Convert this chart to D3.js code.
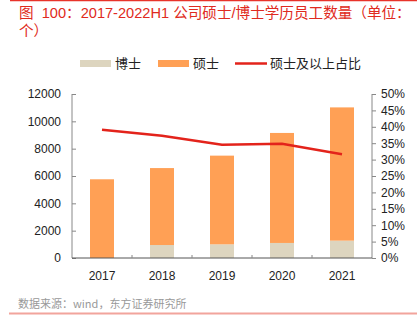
<!DOCTYPE html>
<html>
<head>
<meta charset="utf-8">
<script src="https://cdn.jsdelivr.net/npm/d3@7"></script>
<style>
  body { margin: 0; background: #fff; }
  svg text { font-family: "Liberation Sans", Arial, "Noto Sans CJK SC", sans-serif; }
  .cjk { font-family: "Noto Sans CJK SC", sans-serif; }
</style>
</head>
<body>
<div id="chart"></div>
<script>
// yearly headcount by degree, plus share of master's and above
var years = ["2017", "2018", "2019", "2020", "2021"];
var doctors = [0, 950, 1000, 1100, 1270];
var masters = [5760, 5630, 6490, 8050, 9750];
var ratio = [0.391, 0.373, 0.345, 0.348, 0.316];
var leftTicks = [0, 2000, 4000, 6000, 8000, 10000, 12000];
var rightTicks = [0, 0.05, 0.1, 0.15, 0.2, 0.25, 0.3, 0.35, 0.4, 0.45, 0.5];

var W = 417, H = 328;
var margin = {top: 94, right: 45, bottom: 70, left: 72},
    width = W - margin.left - margin.right,
    height = H - margin.top - margin.bottom;

var svg = d3.select("#chart")
  .append("svg")
    .attr("width", W)
    .attr("height", H);

// header rule and title
svg.append("line")
  .attr("x1", 10).attr("x2", W).attr("y1", 0.5).attr("y2", 0.5)
  .attr("stroke", "#e8332a").attr("stroke-width", 1.5);

var title = ["图  100：2017-2022H1 公司硕士/博士学历员工数量（单位：", "个）"];
svg.selectAll(".title")
  .data(title)
  .enter().append("text")
    .attr("class", "title")
    .attr("x", 19)
    .attr("y", function(d, i) { return 17.5 + i * 18.5; })
    .attr("fill", "#e02a20")
    .attr("font-size", 14.6)
    .style("white-space", "pre")
    .text(function(d) { return d; });

var g = svg.append("g")
  .attr("transform", "translate(" + margin.left + "," + margin.top + ")");

var x = d3.scaleBand().domain(years).range([0, width]).paddingInner(0.6).paddingOuter(0.3);
var y = d3.scaleLinear().domain([0, 12000]).range([height, 0]);
var y2 = d3.scaleLinear().domain([0, 0.5]).range([height, 0]);

// stacked bars: doctors at the bottom, masters on top
var rows = years.map(function(yr, i) { return {year: yr, doctor: doctors[i], master: masters[i]}; });
var stack = d3.stack().keys(["doctor", "master"])(rows);
var colors = {doctor: "#ddd5bf", master: "#ffa055"};

g.selectAll(".layer")
  .data(stack)
  .enter().append("g")
    .attr("fill", function(d) { return colors[d.key]; })
  .selectAll("rect")
  .data(function(d) { return d; })
  .enter().append("rect")
    .attr("x", function(d) { return x(d.data.year); })
    .attr("width", x.bandwidth())
    .attr("y", function(d) { return y(d[1]); })
    .attr("height", function(d) { return y(d[0]) - y(d[1]); });

// axes
var axisColor = "#888";
var left = g.append("g")
  .call(d3.axisLeft(y).tickValues(leftTicks).tickSize(-4).tickPadding(11).tickFormat(d3.format("d")));
var right = g.append("g")
  .attr("transform", "translate(" + width + ",0)")
  .call(d3.axisRight(y2).tickValues(rightTicks).tickSize(4).tickPadding(5).tickFormat(d3.format(".0%")));
var xb = d3.scalePoint().domain(d3.range(6)).range([0, width]);
var bottom = g.append("g")
  .attr("transform", "translate(0," + height + ")")
  .call(d3.axisBottom(x).tickSize(0).tickPadding(13));
bottom.selectAll(".sep")
  .data(xb.domain().slice(1, 5))
  .enter().append("line")
    .attr("x1", function(d) { return xb(d); })
    .attr("x2", function(d) { return xb(d); })
    .attr("y1", 0).attr("y2", -3)
    .attr("stroke", axisColor);

[left, right, bottom].forEach(function(a) {
  a.select(".domain").attr("stroke", axisColor);
  a.selectAll(".tick line").attr("stroke", axisColor);
  a.selectAll("text").attr("font-size", 12).attr("fill", "#222")
    .style("font-family", "'Liberation Sans', Arial, sans-serif");
});
left.select(".domain").attr("d", "M0,0V" + height);
right.select(".domain").attr("d", "M0,0V" + height);
bottom.select(".domain").attr("d", "M0,0H" + width).attr("stroke", "#555");

// ratio line
g.append("path")
  .datum(ratio)
  .attr("fill", "none")
  .attr("stroke", "#e3231b")
  .attr("stroke-width", 2.5)
  .attr("d", d3.line()
    .x(function(d, i) { return x(years[i]) + x.bandwidth() / 2; })
    .y(function(d) { return y2(d); }));

// legend
var legend = svg.append("g").attr("class", "cjk");
var items = [
  {name: "博士", type: "rect", color: colors.doctor, x: 80},
  {name: "硕士", type: "rect", color: colors.master, x: 158},
  {name: "硕士及以上占比", type: "line", color: "#e3231b", x: 235}
];
items.forEach(function(it) {
  if (it.type === "rect") {
    legend.append("rect").attr("x", it.x).attr("y", 60).attr("width", 31).attr("height", 7).attr("fill", it.color);
  } else {
    legend.append("line").attr("x1", it.x).attr("x2", it.x + 32).attr("y1", 63.5).attr("y2", 63.5)
      .attr("stroke", it.color).attr("stroke-width", 2.5);
  }
  legend.append("text")
    .attr("x", it.x + 35).attr("y", 68)
    .attr("font-size", 13).attr("fill", "#222")
    .text(it.name);
});

// source note and footer rule
svg.append("text")
  .attr("class", "cjk")
  .attr("x", 18).attr("y", 308)
  .attr("font-size", 11).attr("fill", "#999")
  .text("数据来源：wind，东方证券研究所");
svg.append("line")
  .attr("x1", 9).attr("x2", W).attr("y1", 313.5).attr("y2", 313.5)
  .attr("stroke", "#f2a49c").attr("stroke-width", 2);
</script>
</body>
</html>
